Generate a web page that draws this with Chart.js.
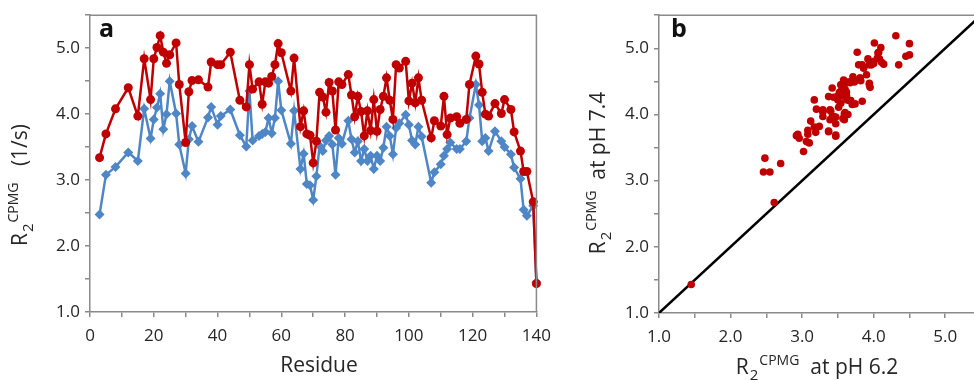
<!DOCTYPE html>
<html>
<head>
<meta charset="utf-8">
<script src="https://cdn.jsdelivr.net/npm/chart.js@4.4.1/dist/chart.umd.min.js"></script>
<style>
    html, body { margin: 0; padding: 0; background: #fff; overflow: hidden; }
    #wrap { position: relative; width: 974px; height: 380px; overflow: hidden; }
    #boxA { position: absolute; left: 0; top: 0; }
    #boxB { position: absolute; left: 560px; top: 0; }
</style>
</head>
<body>
<div id="wrap">
    <div id="boxA"><canvas id="chartA" width="560" height="380"></canvas></div>
    <div id="boxB"><canvas id="chartB" width="430" height="380"></canvas></div>
</div>
<script>
// residue numbers shared by both series
const residues = [
    3, 5, 8, 12, 15, 17, 19, 20, 21, 22, 23, 24, 25, 27, 28, 30, 31, 32, 34, 37,
    38, 40, 41, 44, 47, 49, 50, 51, 53, 54, 55, 56, 57, 58, 59, 60, 63, 64, 66, 67,
    68, 69, 70, 71, 72, 73, 74, 75, 76, 77, 78, 79, 81, 82, 83, 84, 85, 86, 87, 88,
    89, 90, 91, 92, 93, 94, 95, 96, 97, 99, 100, 101, 102, 103, 104, 107, 108, 110, 111, 112,
    113, 115, 116, 118, 119, 121, 122, 123, 124, 125, 127, 129, 130, 132, 133, 135, 136, 137, 139, 140
];

// R2 CPMG at pH 7.4 (red)
const r2At74 = [
    3.34, 3.70, 4.08, 4.40, 3.97, 4.84, 4.22, 4.84, 5.01, 5.19, 4.94, 4.77, 4.90, 5.08, 4.45, 3.57, 4.34, 4.51, 4.52, 4.41,
    4.79, 4.75, 4.75, 4.94, 4.21, 4.11, 4.75, 4.38, 4.49, 4.15, 4.49, 4.47, 4.57, 4.75, 5.07, 4.93, 4.35, 4.85, 3.81, 4.05,
    3.70, 3.68, 3.26, 3.59, 4.33, 4.26, 4.03, 4.48, 4.35, 3.76, 4.49, 4.45, 4.60, 4.29, 3.96, 4.27, 4.04, 3.67, 4.05, 3.75,
    4.22, 3.74, 4.07, 4.27, 4.55, 4.21, 3.92, 4.75, 4.70, 4.80, 4.20, 4.47, 4.17, 4.55, 4.21, 3.64, 3.90, 3.82, 4.27, 3.69,
    3.94, 3.96, 3.86, 3.92, 4.45, 4.88, 4.76, 4.33, 4.00, 3.97, 4.16, 4.01, 4.22, 4.07, 3.73, 3.44, 3.13, 3.13, 2.67, 1.43
];

// R2 CPMG at pH 6.2 (blue)
const r2At62 = [
    2.48, 3.08, 3.20, 3.42, 3.29, 4.08, 3.63, 3.92, 4.10, 4.31, 3.77, 4.00, 4.50, 4.01, 3.54, 3.10, 3.62, 3.82, 3.58, 3.95,
    4.11, 3.84, 3.97, 4.07, 3.68, 3.51, 4.35, 3.60, 3.67, 3.70, 3.73, 3.94, 3.71, 3.94, 4.50, 4.06, 3.55, 4.05, 3.17, 3.40,
    2.94, 2.92, 2.70, 3.06, 3.52, 3.44, 3.60, 3.67, 3.54, 3.08, 3.64, 3.55, 3.90, 3.62, 3.42, 3.59, 3.29, 3.47, 3.29, 3.37,
    3.17, 3.37, 3.29, 3.49, 3.81, 3.67, 3.39, 3.79, 3.86, 3.99, 3.84, 3.60, 3.54, 3.81, 3.66, 2.96, 3.12, 3.24, 3.37, 3.47,
    3.57, 3.47, 3.47, 3.59, 3.94, 4.45, 4.14, 3.59, 3.64, 3.44, 3.74, 3.59, 3.50, 3.39, 3.19, 3.02, 2.55, 2.46, 2.61, 1.45
];

const residueTickLabels = [0, 20, 40, 60, 80, 100, 120, 140];
const r2TickLabels = [1.0, 2.0, 3.0, 4.0, 5.0];
const identityLine = [1.0, 5.5];

const FONT = "'Open Sans', sans-serif";
const RED = '#c00000';
const BLUE = '#4f86c6';
const AXIS = '#8a8a8a';
const TEXT = '#262626';

Chart.defaults.font.family = FONT;
Chart.defaults.color = TEXT;

// draws text made of pieces (sub/superscripts), centred on x,y
function richText(ctx, parts, x, y, vertical) {
    ctx.save();
    ctx.translate(x, y);
    if (vertical) ctx.rotate(-Math.PI / 2);
    const widths = parts.map(p => {
        ctx.font = `${p.size}px ${FONT}`;
        return ctx.measureText(p.text).width;
    });
    let total = 0;
    parts.forEach((p, i) => { total += (p.gap || 0) + widths[i]; });
    let cx = -total / 2;
    ctx.fillStyle = TEXT;
    ctx.textBaseline = 'alphabetic';
    parts.forEach((p, i) => {
        cx += p.gap || 0;
        ctx.font = `${p.size}px ${FONT}`;
        ctx.fillText(p.text, cx, p.dy || 0);
        cx += widths[i];
    });
    ctx.restore();
}

const r2Parts = (rest) => [
    { text: 'R', size: 21 },
    { text: '2', size: 15, dy: 6, gap: 1 },
    { text: 'CPMG', size: 14, dy: -9, gap: 1 },
    { text: rest, size: 21 }
];

const decorPlugin = {
    id: 'decor',
    afterDraw(chart, args, opts) {
        const ctx = chart.ctx;
        const area = chart.chartArea;
        ctx.save();
        ctx.strokeStyle = AXIS;
        ctx.lineWidth = 1.5;
        ctx.beginPath();
        ctx.moveTo(area.left, area.top);
        ctx.lineTo(area.right, area.top);
        if (opts.rightBorder) {
            ctx.lineTo(area.right, area.bottom);
        }
        ctx.stroke();
        ctx.restore();

        ctx.save();
        ctx.fillStyle = '#111';
        ctx.font = `bold 25px ${FONT}`;
        ctx.textBaseline = 'alphabetic';
        ctx.fillText(opts.letter, area.left + opts.letterDx, 37);
        ctx.restore();

        richText(ctx, opts.xTitle, opts.xTitlePos[0], opts.xTitlePos[1], false);
        richText(ctx, opts.yTitle, opts.yTitlePos[0], opts.yTitlePos[1], true);
    }
};

function r2Axis(extra) {
    return Object.assign({
        type: 'linear',
        min: 1.0,
        max: 5.5,
        grid: { drawOnChartArea: false, drawTicks: true, tickLength: 5, color: AXIS, lineWidth: 1.5 },
        border: { display: true, color: AXIS, width: 1.5 },
        ticks: {
            stepSize: 0.5,
            autoSkip: false,
            padding: 5,
            color: TEXT,
            font: { size: 17 },
            callback: v => (r2TickLabels.some(t => Math.abs(t - v) < 1e-6) ? v.toFixed(1) : '')
        }
    }, extra);
}

const lineA = document.getElementById('chartA');
new Chart(lineA, {
    type: 'line',
    data: {
        datasets: [
            {
                label: 'pH 7.4',
                data: residues.map((r, i) => ({ x: r, y: r2At74[i] })),
                borderColor: RED,
                backgroundColor: RED,
                borderWidth: 2.5,
                pointStyle: 'circle',
                pointRadius: 4.5,
                pointBorderWidth: 0,
                tension: 0,
                clip: false,
            },
            {
                label: 'pH 6.2',
                data: residues.map((r, i) => ({ x: r, y: r2At62[i] })),
                borderColor: BLUE,
                backgroundColor: BLUE,
                borderWidth: 2.5,
                pointStyle: 'rectRot',
                pointRadius: 5,
                pointBorderWidth: 0,
                tension: 0,
                clip: false,
            },
        ],
    },
    options: {
        responsive: false,
        animation: false,
        events: [],
        layout: { padding: { left: 0, right: 19, top: 14, bottom: 0 } },
        plugins: {
            legend: { display: false },
            tooltip: { enabled: false },
            decor: {
                letter: 'a',
                letterDx: 9,
                rightBorder: true,
                xTitle: [{ text: 'Residue', size: 21 }],
                xTitlePos: [319, 372],
                yTitle: r2Parts('   (1/s)'),
                yTitlePos: [27, 185],
            },
        },
        scales: {
            x: {
                type: 'linear',
                min: 0,
                max: 140,
                afterFit: s => { s.height = 68; },
                grid: { drawOnChartArea: false, drawTicks: true, tickLength: 5, color: AXIS, lineWidth: 1.5 },
                border: { display: true, color: AXIS, width: 1.5 },
                ticks: {
                    stepSize: 10,
                    autoSkip: false,
                    maxRotation: 0,
                    padding: 9,
                    color: TEXT,
                    font: { size: 17 },
                    callback: v => (residueTickLabels.includes(v) ? String(v) : '')
                }
            },
            y: r2Axis({ afterFit: s => { s.width = 90; } }),
        },
    },
    plugins: [decorPlugin],
});

const scatterB = document.getElementById('chartB');
new Chart(scatterB, {
    type: 'scatter',
    data: {
        datasets: [
            {
                label: 'residues',
                data: r2At62.map((v, i) => ({ x: v, y: r2At74[i] })),
                backgroundColor: RED,
                borderWidth: 0,
                pointRadius: 3.8,
            },
            {
                type: 'line',
                label: 'y = x',
                data: identityLine.map(v => ({ x: v, y: v })),
                borderColor: '#000',
                borderWidth: 2.5,
                pointRadius: 0,
                tension: 0,
            },
        ],
    },
    options: {
        responsive: false,
        animation: false,
        events: [],
        layout: { padding: { left: 0, right: 8, top: 12, bottom: 0 } },
        plugins: {
            legend: { display: false },
            tooltip: { enabled: false },
            decor: {
                letter: 'b',
                letterDx: 12,
                rightBorder: false,
                xTitle: r2Parts('  at pH 6.2'),
                xTitlePos: [257, 374],
                yTitle: r2Parts('  at pH 7.4'),
                yTitlePos: [45, 173],
            },
        },
        scales: {
            x: r2Axis({ afterFit: s => { s.height = 67; }, ticks: Object.assign(r2Axis().ticks, { padding: 9, maxRotation: 0 }) }),
            y: r2Axis({ afterFit: s => { s.width = 99; } }),
        },
    },
    plugins: [decorPlugin],
});
</script>
</body>
</html>
